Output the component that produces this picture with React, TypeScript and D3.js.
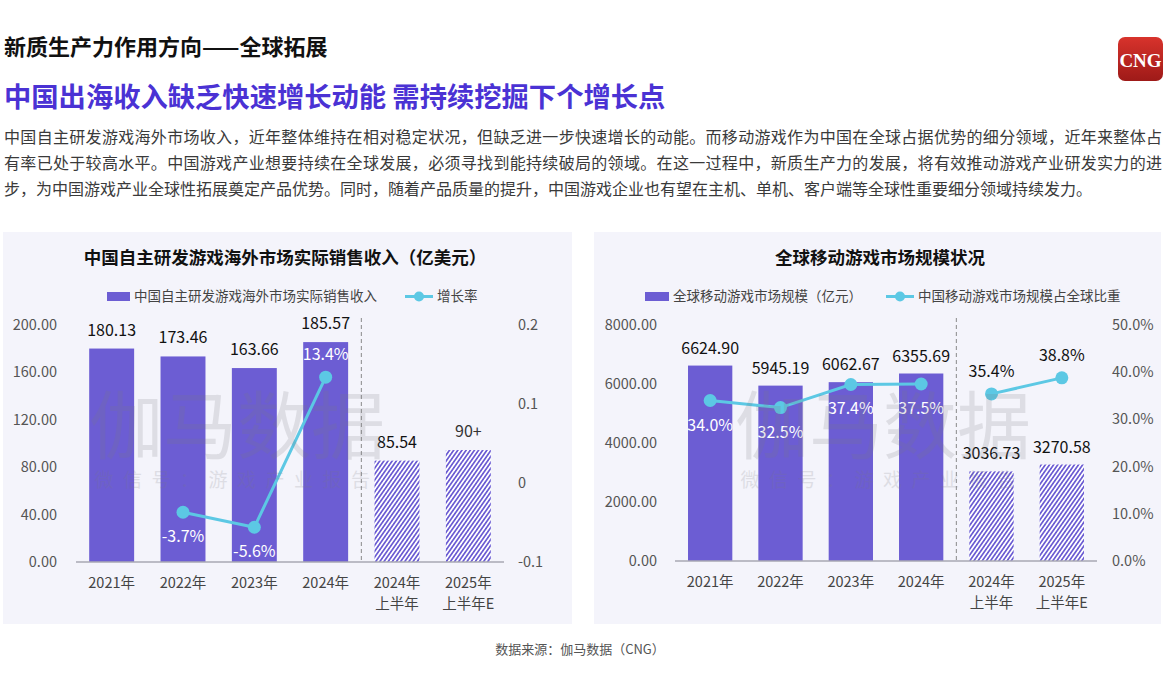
import React from "react";
import * as d3 from "d3";

// ---------- data ----------
const catLine1 = ["2021年", "2022年", "2023年", "2024年", "2024年", "2025年"];
const catLine2 = ["", "", "", "", "上半年", "上半年E"];
const categories = ["2021", "2022", "2023", "2024", "2024H1", "2025H1E"];
const hatched = [false, false, false, false, true, true];

const overseasRevenue = [180.13, 173.46, 163.66, 185.57, 85.54, 94.5];
const overseasLabels = ["180.13", "173.46", "163.66", "185.57", "85.54", "90+"];
const growthRate: (number | null)[] = [null, -0.037, -0.056, 0.134, null, null];
const growthLabels = ["", "-3.7%", "-5.6%", "13.4%", "", ""];
const growthLabelAbove = [false, false, false, true, false, false];

const leftTicks = [0, 40, 80, 120, 160, 200];
const leftRightTicks = [-0.1, 0, 0.1, 0.2];
const leftRightTickLabels = ["-0.1", "0", "0.1", "0.2"];

const globalMobile = [6624.9, 5945.19, 6062.67, 6355.69, 3036.73, 3270.58];
const globalMobileLabels = ["6624.90", "5945.19", "6062.67", "6355.69", "3036.73", "3270.58"];
const chinaShare = [0.34, 0.325, 0.374, 0.375, 0.354, 0.388];
const chinaShareLabels = ["34.0%", "32.5%", "37.4%", "37.5%", "35.4%", "38.8%"];
const shareLabelAbove = [false, false, false, false, true, true];
const shareSegments = [[0, 1, 2, 3], [4, 5]];

const rightTicks = [0, 2000, 4000, 6000, 8000];
const rightRightTicks = [0, 0.1, 0.2, 0.3, 0.4, 0.5];

const paragraph = [
  "中国自主研发游戏海外市场收入，近年整体维持在相对稳定状况，但缺乏进一步快速增长的动能。而移动游戏作为中国在全球占据优势的细分领域，近年来整体占",
  "有率已处于较高水平。中国游戏产业想要持续在全球发展，必须寻找到能持续破局的领域。在这一过程中，新质生产力的发展，将有效推动游戏产业研发实力的进",
  "步，为中国游戏产业全球性拓展奠定产品优势。同时，随着产品质量的提升，中国游戏企业也有望在主机、单机、客户端等全球性重要细分领域持续发力。",
];

const FONT = "'Noto Sans CJK SC', 'Noto Sans', sans-serif";
const BAR = "#6c5dd3";
const LINE = "#5cc8e4";
const PANEL = "#f4f4fb";

type PanelProps = {
  x0: number;
  x1: number;
  yTop: number;
  yBottom: number;
  values: number[];
  valueLabels: string[];
  leftDomain: [number, number];
  leftTickVals: number[];
  leftFmt: (v: number) => string;
  rightDomain: [number, number];
  rightTickVals: number[];
  rightFmt: (v: number, i: number) => string;
  lineVals: (number | null)[];
  lineLabels: string[];
  lineAbove: boolean[];
  segments: number[][];
  leftLabelX: number;
  rightLabelX: number;
  labelOffset: number;
};

function ChartPanel(p: PanelProps) {
  const x = d3.scaleBand<string>().domain(categories).range([p.x0, p.x1]).paddingInner(0.37).paddingOuter(0.185);
  const yL = d3.scaleLinear().domain(p.leftDomain).range([p.yBottom, p.yTop]);
  const yR = d3.scaleLinear().domain(p.rightDomain).range([p.yBottom, p.yTop]);
  const cx = (i: number) => (x(categories[i]) as number) + x.bandwidth() / 2;
  const line = d3
    .line<number>()
    .x((i) => cx(i))
    .y((i) => yR(p.lineVals[i] as number));
  const dashX = ((x(categories[3]) as number) + x.bandwidth() + (x(categories[4]) as number)) / 2;
  return (
    <g>
      {p.values.map((v, i) => (
        <rect
          key={"b" + i}
          x={x(categories[i])}
          y={yL(v)}
          width={x.bandwidth()}
          height={yL(0) - yL(v)}
          fill={hatched[i] ? "url(#hatch)" : BAR}
        />
      ))}
      <line x1={p.x0} x2={p.x1} y1={yL(0)} y2={yL(0)} stroke="#a9a9b3" strokeWidth={1.5} />
      <line x1={dashX} x2={dashX} y1={p.yTop - 7} y2={yL(0)} stroke="#8a8a8a" strokeWidth={1} strokeDasharray="4,3" />
      {p.leftTickVals.map((t) => (
        <text key={"l" + t} x={p.leftLabelX} y={yL(t) + 5} textAnchor="end" fontSize={14.5} fill="#555">
          {p.leftFmt(t)}
        </text>
      ))}
      {p.rightTickVals.map((t, i) => (
        <text key={"r" + t} x={p.rightLabelX} y={yR(t) + 5} textAnchor="start" fontSize={14.5} fill="#555">
          {p.rightFmt(t, i)}
        </text>
      ))}
      {categories.map((c, i) => (
        <g key={"x" + i}>
          <text x={cx(i)} y={yL(0) + 26} textAnchor="middle" fontSize={14.5} fill="#444">
            {catLine1[i]}
          </text>
          {catLine2[i] && (
            <text x={cx(i)} y={yL(0) + 47} textAnchor="middle" fontSize={14.5} fill="#444">
              {catLine2[i]}
            </text>
          )}
        </g>
      ))}
      {p.values.map((v, i) => (
        <text
          key={"v" + i}
          x={cx(i)}
          y={yL(v) - p.labelOffset}
          textAnchor="middle"
          fontSize={16}
          fill={p.valueLabels[i] === "90+" ? "#333" : "#111"}
        >
          {p.valueLabels[i]}
        </text>
      ))}
      {p.segments.map((s, k) => (
        <path key={"s" + k} d={line(s) || ""} fill="none" stroke={LINE} strokeWidth={3} />
      ))}
      {p.lineVals.map((v, i) =>
        v === null ? null : <circle key={"c" + i} cx={cx(i)} cy={yR(v)} r={6.5} fill={LINE} />
      )}
      {p.lineVals.map((v, i) =>
        v === null ? null : (
          <text
            key={"t" + i}
            x={cx(i)}
            y={p.lineAbove[i] ? yR(v) - 17 : yR(v) + 30}
            textAnchor="middle"
            fontSize={16}
            fill={hatched[i] ? "#111" : "#fff"}
          >
            {p.lineLabels[i]}
          </text>
        )
      )}
    </g>
  );
}

function Watermark({ cx }: { cx: number }) {
  return (
    <g fill="#7a7a80" opacity={0.18} style={{ pointerEvents: "none" }}>
      <text x={cx} y={453} textAnchor="middle" fontSize={74}>
        伽马数据
      </text>
      <text x={cx} y={487} textAnchor="middle" fontSize={19} letterSpacing={9.5}>
        微信号：游戏产业报告
      </text>
    </g>
  );
}

export default function App() {
  return (
    <div style={{ position: "absolute", left: 0, top: 0 }}>
      <svg width={1170} height={690} style={{ display: "block", background: "#fff" }} fontFamily={FONT}>
        <defs>
          <pattern id="hatch" patternUnits="userSpaceOnUse" width={3.4} height={3.4} patternTransform="rotate(35)">
            <rect width={3.4} height={3.4} fill="#ffffff" />
            <rect width={1.7} height={3.4} fill={BAR} />
          </pattern>
          <linearGradient id="logoGrad" x1="0" y1="0" x2="0" y2="1">
            <stop offset="0" stopColor="#d8332c" />
            <stop offset="1" stopColor="#9e1a18" />
          </linearGradient>
        </defs>

        {/* header */}
        <text x={4} y={55} fontSize={22} fontWeight="bold" fill="#111">
          新质生产力作用方向——全球拓展
        </text>
        <text x={4} y={107} fontSize={27.3} fontWeight="bold" fill="#4a32d4">
          中国出海收入缺乏快速增长动能 需持续挖掘下个增长点
        </text>
        {paragraph.map((l, i) => (
          <text
            key={i}
            x={4}
            y={143 + i * 26}
            fontSize={16}
            fill="#3a3a3a"
            {...(i < 2 ? { textLength: 1158, lengthAdjust: "spacing" } : {})}
          >
            {l}
          </text>
        ))}

        {/* logo */}
        <rect x={1118} y={37} width={45} height={44} rx={7} fill="url(#logoGrad)" />
        <text x={1140.5} y={67} textAnchor="middle" fontSize={19} fontWeight="bold" fill="#fff" fontFamily="'Liberation Serif', serif">
          CNG
        </text>

        {/* panels */}
        <rect x={3} y={232} width={569} height={392} fill={PANEL} />
        <rect x={594} y={232} width={567} height={392} fill={PANEL} />

        {/* left chart */}
        <text x={285} y={264} textAnchor="middle" fontSize={17.5} fontWeight="bold" fill="#111">
          中国自主研发游戏海外市场实际销售收入（亿美元）
        </text>
        <rect x={107} y={292} width={23} height={9} fill={BAR} />
        <text x={134} y={301} fontSize={13.5} fill="#444">
          中国自主研发游戏海外市场实际销售收入
        </text>
        <line x1={405} x2={433} y1={296.5} y2={296.5} stroke={LINE} strokeWidth={3} />
        <circle cx={419} cy={296.5} r={5} fill={LINE} />
        <text x={437} y={301} fontSize={13.5} fill="#444">
          增长率
        </text>
        <ChartPanel
          x0={76}
          x1={504}
          yTop={325}
          yBottom={562}
          values={overseasRevenue}
          valueLabels={overseasLabels}
          leftDomain={[0, 200]}
          leftTickVals={leftTicks}
          leftFmt={(v) => d3.format(".2f")(v)}
          rightDomain={[-0.1, 0.2]}
          rightTickVals={leftRightTicks}
          rightFmt={(_v, i) => leftRightTickLabels[i]}
          lineVals={growthRate}
          lineLabels={growthLabels}
          lineAbove={growthLabelAbove}
          segments={[[1, 2, 3]]}
          leftLabelX={57}
          rightLabelX={518}
          labelOffset={13}
        />
        <Watermark cx={237} />

        {/* right chart */}
        <text x={880} y={264} textAnchor="middle" fontSize={17.5} fontWeight="bold" fill="#111">
          全球移动游戏市场规模状况
        </text>
        <rect x={645} y={292} width={24} height={9} fill={BAR} />
        <text x={673} y={301} fontSize={13.5} fill="#444">
          全球移动游戏市场规模（亿元）
        </text>
        <line x1={886} x2={914} y1={296.5} y2={296.5} stroke={LINE} strokeWidth={3} />
        <circle cx={900} cy={296.5} r={5} fill={LINE} />
        <text x={918} y={301} fontSize={13.5} fill="#444">
          中国移动游戏市场规模占全球比重
        </text>
        <ChartPanel
          x0={675}
          x1={1097}
          yTop={325}
          yBottom={561}
          values={globalMobile}
          valueLabels={globalMobileLabels}
          leftDomain={[0, 8000]}
          leftTickVals={rightTicks}
          leftFmt={(v) => d3.format(".2f")(v)}
          rightDomain={[0, 0.5]}
          rightTickVals={rightRightTicks}
          rightFmt={(v) => d3.format(".1%")(v)}
          lineVals={chinaShare}
          lineLabels={chinaShareLabels}
          lineAbove={shareLabelAbove}
          segments={shareSegments}
          leftLabelX={657}
          rightLabelX={1112}
          labelOffset={12}
        />
        <Watermark cx={883} />

        {/* footer */}
        <text x={580} y={654} textAnchor="middle" fontSize={13} fill="#555">
          数据来源：伽马数据（CNG）
        </text>
      </svg>
    </div>
  );
}
